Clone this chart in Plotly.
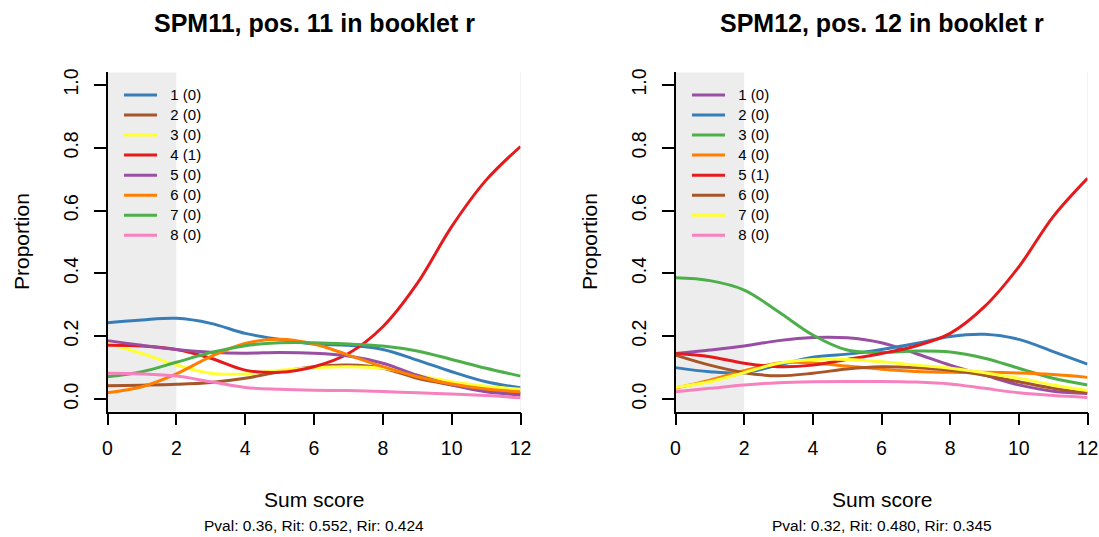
import plotly.graph_objects as go

W, H = 1099, 537

score = list(range(0, 13))

# Left item: SPM11
left_title = "SPM11, pos. 11 in booklet r"
left_sub = "Pval: 0.36, Rit: 0.552, Rir: 0.424"
left_names = ["1 (0)", "2 (0)", "3 (0)", "4 (1)", "5 (0)", "6 (0)", "7 (0)", "8 (0)"]
left_colors = ["#377EB8", "#A65628", "#FFFF33", "#E41A1C", "#984EA3", "#FF7F00", "#4DAF4A", "#F781BF"]
left_opt1 = [0.243, 0.252, 0.257, 0.241, 0.209, 0.190, 0.175, 0.171, 0.158, 0.124, 0.087, 0.055, 0.036]
left_opt2 = [0.042, 0.044, 0.047, 0.053, 0.066, 0.087, 0.103, 0.108, 0.098, 0.066, 0.045, 0.027, 0.018]
left_opt3 = [0.177, 0.145, 0.108, 0.082, 0.080, 0.092, 0.100, 0.103, 0.098, 0.076, 0.055, 0.041, 0.031]
left_opt4 = [0.171, 0.169, 0.158, 0.130, 0.092, 0.085, 0.103, 0.145, 0.230, 0.368, 0.549, 0.697, 0.804]
left_opt5 = [0.186, 0.171, 0.158, 0.149, 0.146, 0.148, 0.146, 0.137, 0.114, 0.076, 0.045, 0.023, 0.013]
left_opt6 = [0.020, 0.039, 0.080, 0.135, 0.177, 0.190, 0.175, 0.140, 0.103, 0.071, 0.048, 0.032, 0.023]
left_opt7 = [0.071, 0.087, 0.117, 0.148, 0.170, 0.179, 0.179, 0.175, 0.169, 0.153, 0.126, 0.098, 0.073]
left_opt8 = [0.082, 0.080, 0.073, 0.055, 0.037, 0.031, 0.028, 0.027, 0.024, 0.020, 0.016, 0.011, 0.004]
left_series = [left_opt1, left_opt2, left_opt3, left_opt4, left_opt5, left_opt6, left_opt7, left_opt8]

# Right item: SPM12
right_title = "SPM12, pos. 12 in booklet r"
right_sub = "Pval: 0.32, Rit: 0.480, Rir: 0.345"
right_names = ["1 (0)", "2 (0)", "3 (0)", "4 (0)", "5 (1)", "6 (0)", "7 (0)", "8 (0)"]
right_colors = ["#984EA3", "#377EB8", "#4DAF4A", "#FF7F00", "#E41A1C", "#A65628", "#FFFF33", "#F781BF"]
right_opt1 = [0.145, 0.156, 0.169, 0.186, 0.196, 0.195, 0.179, 0.145, 0.108, 0.076, 0.045, 0.025, 0.018]
right_opt2 = [0.100, 0.087, 0.084, 0.108, 0.133, 0.143, 0.158, 0.177, 0.199, 0.206, 0.190, 0.151, 0.111]
right_opt3 = [0.386, 0.377, 0.347, 0.278, 0.204, 0.156, 0.148, 0.153, 0.150, 0.130, 0.098, 0.066, 0.045]
right_opt4 = [0.035, 0.060, 0.090, 0.115, 0.115, 0.105, 0.095, 0.088, 0.085, 0.085, 0.083, 0.078, 0.069]
right_opt5 = [0.145, 0.135, 0.114, 0.103, 0.108, 0.126, 0.145, 0.169, 0.209, 0.294, 0.421, 0.581, 0.703]
right_opt6 = [0.140, 0.108, 0.084, 0.074, 0.082, 0.096, 0.103, 0.100, 0.092, 0.076, 0.055, 0.034, 0.020]
right_opt7 = [0.037, 0.055, 0.084, 0.114, 0.126, 0.126, 0.119, 0.108, 0.098, 0.084, 0.066, 0.045, 0.027]
right_opt8 = [0.023, 0.034, 0.045, 0.052, 0.055, 0.056, 0.056, 0.054, 0.048, 0.034, 0.020, 0.011, 0.005]
right_series = [right_opt1, right_opt2, right_opt3, right_opt4, right_opt5, right_opt6, right_opt7, right_opt8]

x_ticks = [0, 2, 4, 6, 8, 10, 12]
y_ticks = [0.0, 0.2, 0.4, 0.6, 0.8, 1.0]
y_ticklabels = ["0.0", "0.2", "0.4", "0.6", "0.8", "1.0"]
shade_range = [0, 2]

FONT = "Liberation Sans, Arial, Helvetica, sans-serif"

fig = go.Figure()

def legend_label(name):
    return "<span style='font-size:15px'>\u00a0\u00a0%s</span>" % name

for names, colors, series, xa, ya, lg in [
    (left_names, left_colors, left_series, "x", "y", "legend"),
    (right_names, right_colors, right_series, "x2", "y2", "legend2"),
]:
    for nm, col, vals in zip(names, colors, series):
        fig.add_trace(go.Scatter(
            x=score, y=vals, mode="lines", name=legend_label(nm),
            line=dict(color=col, width=3, shape="spline", smoothing=1.0),
            xaxis=xa, yaxis=ya, legend=lg, hoverinfo="skip",
        ))

# pixel geometry
def px_x(p):
    return p / W

def px_y(p):
    return 1 - p / H

L_x0, L_x1 = 107.5, 520.5
R_x0, R_x1 = 675.5, 1087.5
Y_top, Y_bot = 72.4, 411.6

axis_common = dict(showgrid=False, zeroline=False, showline=True, linecolor="black",
                   linewidth=1.6, ticks="outside", ticklen=12, tickwidth=1.6, automargin=False,
                   tickcolor="black", tickfont=dict(family=FONT, size=19.5, color="black"))

xcfg = dict(axis_common, range=[0, 12], tickvals=x_ticks, ticktext=[str(v) for v in x_ticks],
            ticklabelstandoff=6)
ycfg = dict(axis_common, range=[-0.04, 1.04], tickvals=y_ticks, ticktext=y_ticklabels,
            tickangle=-90, ticklabelstandoff=8)

legend_common = dict(y=px_y(80), xanchor="left", yanchor="top", bgcolor="rgba(0,0,0,0)",
                     font=dict(family=FONT, size=13.1, color="black"),
                     itemwidth=33, tracegroupgap=0)

fig.update_layout(
    template="none",
    width=W, height=H, autosize=False,
    margin=dict(l=0, r=0, t=0, b=0, pad=0),
    paper_bgcolor="white", plot_bgcolor="white",
    font=dict(family=FONT, color="black"),
    xaxis=dict(xcfg, domain=[px_x(L_x0), px_x(L_x1)], anchor="y"),
    yaxis=dict(ycfg, domain=[px_y(Y_bot), px_y(Y_top)], anchor="x"),
    xaxis2=dict(xcfg, domain=[px_x(R_x0), px_x(R_x1)], anchor="y2"),
    yaxis2=dict(ycfg, domain=[px_y(Y_bot), px_y(Y_top)], anchor="x2"),
    legend=dict(legend_common, x=px_x(119)),
    legend2=dict(legend_common, x=px_x(687)),
    showlegend=True,
)

shapes = []
for xr, yr in [("x", "y"), ("x2", "y2")]:
    shapes.append(dict(type="rect", xref=xr, yref=yr + " domain", x0=shade_range[0], x1=shade_range[1],
                       y0=0, y1=1, fillcolor="#EDEDED", line=dict(width=0), layer="below"))
    shapes.append(dict(type="line", xref=xr, yref=yr + " domain", x0=12, x1=12, y0=0, y1=1,
                       line=dict(color="#E6E6E6", width=1), layer="below"))
fig.update_layout(shapes=shapes)

ann = []
for cx, title, sub, ylab_x in [((L_x0 + L_x1) / 2, left_title, left_sub, 21),
                                ((R_x0 + R_x1) / 2, right_title, right_sub, 589)]:
    ann.append(dict(text="<b>%s</b>" % title, x=px_x(cx), y=px_y(22.5), xref="paper", yref="paper",
                    xanchor="center", yanchor="middle", showarrow=False,
                    font=dict(family=FONT, size=25, color="black")))
    ann.append(dict(text="Sum score", x=px_x(cx), y=px_y(499), xref="paper", yref="paper",
                    xanchor="center", yanchor="middle", showarrow=False,
                    font=dict(family=FONT, size=21, color="black")))
    ann.append(dict(text=sub, x=px_x(cx), y=px_y(525), xref="paper", yref="paper",
                    xanchor="center", yanchor="middle", showarrow=False,
                    font=dict(family=FONT, size=15.5, color="black")))
    ann.append(dict(text="Proportion", x=px_x(ylab_x), y=px_y((Y_top + Y_bot) / 2), xref="paper",
                    yref="paper", xanchor="center", yanchor="middle", showarrow=False, textangle=-90,
                    font=dict(family=FONT, size=21, color="black")))
fig.update_layout(annotations=ann)

fig.write_html("out.html")
